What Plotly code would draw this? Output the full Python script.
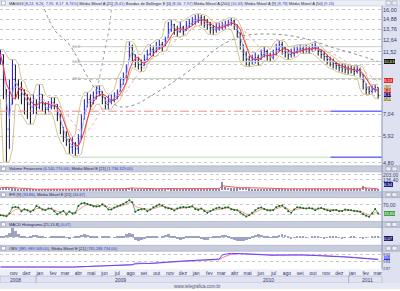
import pandas as pd
import plotly.graph_objects as go

START = '2008-10-10'
close = [11.25, 9.25, 6.25, 7.31, 9.25, 8.89, 8.55, 8.22, 7.91, 7.60,
         7.43, 7.60, 7.43, 8.22, 7.60, 7.31, 7.43, 7.72, 7.60, 7.03,
         6.50, 5.87, 5.78, 5.43, 5.56, 5.35, 5.56, 6.50, 7.31, 7.91,
         7.72, 8.03, 8.42, 8.55, 8.03, 7.60, 7.79, 7.91, 8.03, 8.22,
         8.89, 9.25, 9.85, 11.88, 11.25, 10.65, 10.40, 10.16, 10.82, 11.25,
         11.70, 11.52, 11.88, 12.16, 11.98, 12.45, 13.68, 14.23, 13.68, 13.47,
         13.90, 13.47, 14.12, 14.34, 14.56, 14.79, 15.03, 14.79, 14.56, 14.23,
         13.90, 13.68, 13.90, 14.01, 14.12, 14.23, 14.45, 14.68, 14.23, 13.47,
         12.45, 11.25, 10.82, 10.65, 10.82, 10.99, 10.73, 11.25, 11.52, 11.16,
         10.99, 11.25, 11.70, 12.16, 11.88, 11.43, 11.25, 11.34, 11.52, 11.70,
         11.79, 11.70, 11.79, 11.70, 11.88, 12.07, 11.52, 11.25, 11.07, 10.82,
         10.65, 10.48, 10.32, 10.16, 10.16, 10.00, 10.00, 10.00, 9.85, 10.00,
         9.77, 9.10, 8.55, 8.42, 8.55, 8.69, 8.17]
high = [11.70, 11.25, 8.55, 9.25, 10.82, 10.40, 9.25, 9.10, 8.55, 8.22,
        8.03, 8.22, 7.91, 8.89, 8.22, 7.72, 7.79, 8.03, 8.03, 7.60,
        7.03, 6.35, 6.15, 5.78, 5.87, 5.65, 6.01, 7.03, 7.91, 8.35,
        8.22, 8.42, 8.76, 8.82, 8.42, 8.03, 8.16, 8.22, 8.35, 8.55,
        9.39, 9.77, 10.40, 12.45, 12.16, 11.25, 10.99, 10.82, 11.25, 11.70,
        12.16, 12.07, 12.45, 12.65, 12.45, 12.95, 14.56, 14.79, 14.34, 14.12,
        14.56, 14.12, 14.68, 14.91, 15.15, 15.39, 15.51, 15.39, 15.27, 14.91,
        14.56, 14.23, 14.45, 14.45, 14.56, 14.68, 14.79, 15.03, 14.79, 14.23,
        13.36, 12.16, 11.52, 11.16, 11.25, 11.43, 11.25, 11.70, 11.98, 11.70,
        11.43, 11.70, 12.26, 12.55, 12.45, 11.98, 11.70, 11.79, 11.98, 12.07,
        12.16, 12.07, 12.16, 12.07, 12.26, 12.36, 11.98, 11.70, 11.52, 11.25,
        11.07, 10.90, 10.65, 10.48, 10.48, 10.40, 10.32, 10.32, 10.24, 10.32,
        10.16, 9.62, 8.96, 8.76, 8.82, 8.89, 8.69]
low = [10.40, 7.91, 4.83, 5.35, 7.60, 7.91, 7.91, 7.60, 7.03, 6.76,
       6.50, 7.03, 7.03, 7.31, 7.20, 7.03, 7.14, 7.31, 7.31, 6.66,
       6.01, 5.65, 5.47, 5.14, 5.14, 5.06, 5.14, 5.78, 6.76, 7.43,
       7.31, 7.60, 7.91, 8.10, 7.60, 7.31, 7.31, 7.60, 7.72, 7.91,
       8.42, 8.89, 9.39, 10.82, 10.65, 10.16, 10.00, 9.85, 10.32, 10.82,
       11.16, 11.07, 11.43, 11.70, 11.52, 11.98, 12.85, 13.47, 13.16, 12.95,
       13.36, 13.05, 13.57, 13.90, 14.12, 14.23, 14.45, 14.12, 13.90, 13.68,
       13.26, 13.16, 13.36, 13.57, 13.68, 13.79, 14.01, 14.12, 13.68, 12.85,
       11.70, 10.65, 10.32, 10.24, 10.40, 10.48, 10.32, 10.82, 10.99, 10.73,
       10.65, 10.82, 11.16, 11.52, 11.25, 10.99, 10.82, 10.99, 11.07, 11.34,
       11.43, 11.34, 11.43, 11.34, 11.52, 11.61, 11.16, 10.90, 10.73, 10.40,
       10.24, 10.08, 10.00, 9.85, 9.77, 9.69, 9.62, 9.69, 9.54, 9.69,
       9.39, 8.55, 8.22, 8.22, 8.29, 8.35, 7.95]
volume = [30, 35, 40, 32, 25, 22, 18, 15, 14, 12,
          10, 9, 8, 10, 9, 8, 9, 10, 9, 8,
          9, 10, 12, 11, 10, 12, 14, 16, 15, 13,
          12, 14, 15, 13, 12, 11, 12, 13, 14, 15,
          18, 20, 22, 35, 25, 20, 18, 16, 15, 17,
          18, 16, 17, 19, 18, 20, 28, 25, 22, 20,
          19, 18, 17, 18, 19, 20, 18, 17, 16, 18,
          17, 16, 18, 20, 110, 45, 30, 25, 22, 24,
          30, 35, 28, 22, 20, 18, 17, 19, 18, 16,
          15, 16, 17, 18, 16, 15, 14, 15, 16, 14,
          13, 14, 15, 14, 13, 14, 15, 16, 15, 14,
          15, 14, 13, 14, 15, 14, 13, 14, 15, 16,
          18, 50, 25, 20, 18, 16, 6.54]
rsi = [26.4, 25.0, 22.2, 33.3, 58.3, 61.1, 58.3, 43.1, 51.4, 47.2,
       40.3, 47.2, 65.3, 58.3, 50.0, 47.2, 54.2, 54.2, 43.1, 30.6,
       37.5, 44.4, 29.2, 41.7, 33.3, 36.1, 65.3, 75.0, 77.8, 73.6,
       69.4, 63.9, 62.5, 63.9, 72.2, 63.9, 50.0, 50.0, 58.3, 63.9,
       68.1, 73.6, 80.6, 88.9, 80.6, 40.3, 48.6, 51.4, 52.8, 43.1,
       50.0, 59.7, 65.3, 70.8, 66.7, 58.3, 55.6, 52.8, 45.8, 54.2,
       58.3, 61.1, 58.3, 61.1, 63.9, 52.8, 48.6, 54.2, 44.4, 36.1,
       43.1, 50.0, 55.6, 58.3, 54.2, 58.3, 59.7, 51.4, 48.6, 47.2,
       37.5, 29.2, 20.8, 26.4, 36.1, 47.2, 55.6, 58.3, 52.8, 47.2,
       45.8, 48.6, 59.7, 65.3, 66.7, 55.6, 43.1, 36.1, 50.0, 59.7,
       58.3, 55.6, 54.2, 56.9, 54.2, 47.2, 54.2, 56.9, 51.4, 47.2,
       44.4, 47.2, 48.6, 43.1, 44.4, 50.0, 48.6, 47.2, 44.4, 43.1,
       40.3, 30.6, 23.6, 19.4, 34.7, 52.8, 33.86]
macd_hist = [0.05, 0.1, 0.2, 0.4, 0.9, 0.6, 0.3, 0.1, 0.05, -0.05,
             0.05, 0.2, 0.25, 0.15, 0.05, -0.05, 0.0, 0.05, 0.05, 0.1,
             0.15, 0.1, -0.05, -0.1, 0.0, 0.05, 0.1, 0.25, 0.3, 0.25,
             0.15, 0.05, 0.05, 0.0, 0.1, 0.15, 0.1, 0.0, -0.05, 0.05,
             0.1, 0.15, 0.3, 0.4, 0.35, -0.2, -0.35, -0.25, -0.1, 0.05,
             0.1, 0.15, 0.05, 0.0, 0.1, 0.25, 0.3, 0.15, 0.05, -0.15,
             -0.2, -0.1, 0.05, 0.1, 0.15, 0.1, 0.05, -0.1, -0.25, -0.2,
             -0.05, 0.05, 0.1, 0.15, 0.25, 0.2, 0.05, -0.1, -0.25, -0.35,
             -0.3, -0.35, -0.25, -0.1, 0.05, 0.2, 0.3, 0.25, 0.15, 0.05,
             -0.05, 0.05, 0.15, 0.25, 0.3, 0.2, 0.05, -0.1, -0.05, 0.05,
             0.1, 0.05, -0.05, 0.0, 0.05, 0.1, 0.05, -0.05, -0.1, -0.05,
             0.05, 0.1, 0.05, -0.05, -0.1, -0.05, 0.0, 0.05, 0.05, 0.0,
             -0.05, -0.1, -0.05, 0.0, 0.1, 0.15, 0.07]
obv = [316, 316, 310, 305, 300, 300, 295, 290, 290, 285,
       285, 283, 283, 283, 283, 285, 285, 283, 283, 285,
       290, 290, 292, 300, 310, 320, 330, 335, 340, 345,
       350, 355, 360, 362, 365, 370, 378, 385, 390, 392,
       395, 400, 405, 408, 420, 500, 510, 515, 495, 485,
       483, 495, 510, 525, 540, 547, 555, 565, 580, 595,
       605, 609, 615, 620, 625, 630, 635, 640, 645, 650,
       655, 660, 665, 700, 900, 940, 960, 975, 980, 975,
       965, 955, 945, 940, 930, 920, 910, 900, 890, 880,
       875, 880, 890, 895, 900, 903, 903, 900, 903, 905,
       903, 900, 895, 890, 885, 880, 875, 870, 865, 860,
       857, 855, 845, 830, 815, 800, 790, 780, 760, 740,
       725, 717, 715, 712, 705, 690, 680]
ma200_week = [14, 18, 23, 29, 33, 38, 41, 46, 50, 58, 67, 73, 79, 83, 94, 103, 111, 119, 126]
ma200_vals = [16.8, 13.68, 12.16, 9.47, 8.22, 7.60, 7.43, 7.66, 8.10, 9.10,
              10.65, 11.98, 12.85, 13.16, 13.16, 12.65, 11.88, 11.25, 10.65]
arc_dates = ['2009-05-24', '2009-06-02', '2009-06-12', '2009-06-21', '2009-06-27']
arc_vals = [8.55, 10.00, 11.88, 13.90, 16.60]
fib_low, fib_high = 5.01, 16.28
fib_ratios = [0.0, 0.382, 0.5, 0.618]
fib_labels = ['', '38,2', '50,0', '61,8']
fib_start = '2009-03-27'
support = 7.20
support_break = '2010-11-20'
months_pt = ['jan', 'fev', 'mar', 'abr', 'mai', 'jun', 'jul', 'ago', 'set', 'out', 'nov', 'dez']
price_ticks = [4.80, 5.92, 7.04, 8.16, 9.28, 10.40, 11.52, 12.64, 13.76, 14.88, 16.00]
price_ticks_hidden = [8.16, 9.28, 10.40]
X_END = '2011-03-20'
X_START = '2008-10-09'

def br(v, d=2):
    return f"{v:.{d}f}".replace('.', ',')

dates = pd.date_range(START, periods=len(close), freq='7D')
sc = pd.Series(close)
sh = pd.Series(high)
sl = pd.Series(low)
opens = sc.shift(1).fillna(close[0]).clip(lower=sl, upper=sh)
ma9 = sc.rolling(2, min_periods=1).mean()
ma21 = sc.rolling(4, min_periods=1).mean()
ma50 = sc.rolling(10, min_periods=1).mean()
bb_up = sh.rolling(3, center=True, min_periods=1).max()
bb_lo = sl.rolling(3, center=True, min_periods=1).min()
vol_ema = pd.Series(volume).ewm(span=4).mean()
rsi_ema = pd.Series(rsi).ewm(span=4).mean()
obv_ema = pd.Series(obv).ewm(span=4).mean()
ma200_dates = [dates[i] for i in ma200_week]

fig = go.Figure()
FONT = 'Liberation Sans, Arial, sans-serif'

for r, lab in zip(fib_ratios, fib_labels):
    lvl = fib_low + r * (fib_high - fib_low)
    col = '#b8dcb8' if r == 0 else '#c9d3c2'
    fig.add_trace(go.Scatter(x=[fib_start, X_END], y=[lvl, lvl], mode='lines',
                             line=dict(color=col, width=1), yaxis='y', hoverinfo='skip'))
    if lab:
        fig.add_trace(go.Scatter(x=[fib_start], y=[lvl], mode='text', text=[lab],
                                 textposition='middle right',
                                 textfont=dict(size=4, color='#9a9a9a', family=FONT), yaxis='y'))
fig.add_trace(go.Scatter(x=[X_START, support_break], y=[support, support], mode='lines',
                         line=dict(color='#f08a8a', width=1, dash='dashdot'), yaxis='y'))
fig.add_trace(go.Scatter(x=[support_break, X_END], y=[support, support], mode='lines',
                         line=dict(color='#7070ff', width=1.5), yaxis='y'))
fig.add_trace(go.Scatter(x=[support_break, X_END], y=[fib_low, fib_low], mode='lines',
                         line=dict(color='#7070ff', width=1.5), yaxis='y'))
fig.add_trace(go.Scatter(x=dates, y=bb_up, mode='lines', line=dict(color='#c8b878', width=0.8), yaxis='y'))
fig.add_trace(go.Scatter(x=dates, y=bb_lo, mode='lines', line=dict(color='#c8b878', width=0.8), yaxis='y'))
fig.add_trace(go.Scatter(x=ma200_dates, y=ma200_vals, mode='lines', line=dict(color='#8c8c9c', width=1, dash='dot', shape='spline'), yaxis='y'))
fig.add_trace(go.Scatter(x=arc_dates, y=arc_vals, mode='lines', line=dict(color='#a0a0a8', width=1, dash='dot', shape='spline'), yaxis='y'))
fig.add_trace(go.Scatter(x=dates, y=ma50, mode='lines', line=dict(color='#f2a8b8', width=1, dash='dot'), yaxis='y'))
fig.add_trace(go.Scatter(x=dates, y=ma9, mode='lines', line=dict(color='#9a9aff', width=0.8), yaxis='y'))
fig.add_trace(go.Ohlc(x=dates, open=opens, high=high, low=low, close=close, yaxis='y',
                      increasing=dict(line=dict(color='#1818c8', width=1)),
                      decreasing=dict(line=dict(color='#101018', width=1)), tickwidth=0.3))
fig.add_trace(go.Scatter(x=dates, y=ma21, mode='lines', line=dict(color='#ff3030', width=1), yaxis='y'))

fig.add_trace(go.Bar(x=dates, y=volume, marker=dict(color='#8a8ab0', line=dict(width=0)),
                     width=7 * 86400000 * 0.45, yaxis='y2'))
fig.add_trace(go.Scatter(x=dates, y=vol_ema, mode='lines', line=dict(color='#ff5050', width=1), yaxis='y2'))
fig.add_trace(go.Scatter(x=dates, y=rsi_ema, mode='lines', line=dict(color='#f4a0a0', width=1), yaxis='y3'))
fig.add_trace(go.Scatter(x=dates, y=rsi, mode='lines+markers', line=dict(color='#5aa05a', width=1),
                         marker=dict(size=2, color='#1e5e1e'), yaxis='y3'))
fig.add_trace(go.Bar(x=dates, y=macd_hist, marker=dict(color='#9ca2c2', line=dict(width=0)),
                     width=7 * 86400000 * 0.85, yaxis='y4'))
fig.add_trace(go.Scatter(x=dates, y=obv_ema, mode='lines', line=dict(color='#ff70c0', width=1), yaxis='y5'))
fig.add_trace(go.Scatter(x=dates, y=obv, mode='lines', line=dict(color='#5050ff', width=1), yaxis='y5'))

def py(y):
    return 1 - y / 291.0

def pxx(x):
    return x / 400.0

XR = 382 / 400.0
def grid(fs=5.5):
    return dict(showgrid=True, gridcolor='#c8c8c8', griddash='dot', gridwidth=1, zeroline=False,
                side='right', anchor='x', ticks='', showline=False,
                tickfont=dict(size=fs, color='#3a3a6a', family=FONT))

month_ticks = pd.date_range('2008-11-01', '2011-03-01', freq='MS') + pd.Timedelta(days=9)
fig.update_layout(
    width=400, height=291, margin=dict(l=0, r=0, t=0, b=0),
    paper_bgcolor='white', plot_bgcolor='white', showlegend=False, bargap=0,
    font=dict(family=FONT, size=5, color='#222255'),
    xaxis=dict(domain=[0, XR], range=[X_START, X_END], anchor='y5', type='date',
               rangeslider=dict(visible=False), showgrid=False, zeroline=False, ticks='',
               tickvals=list(month_ticks), ticktext=[months_pt[d.month - 1] for d in month_ticks],
               tickfont=dict(size=5, color='#333366', family=FONT)),
    yaxis=dict(domain=[py(167), py(6)], type='log', range=[0.6702, 1.2177],
               tickvals=price_ticks,
               ticktext=['' if v in price_ticks_hidden else br(v) for v in price_ticks], **grid()),
    yaxis2=dict(domain=[py(193), py(173)], range=[-23.4, 243], tickvals=[136.4, 203.0],
                ticktext=['136,40', '203,00'], **grid(5)),
    yaxis3=dict(domain=[py(223), py(199)], range=[0, 100], tickvals=[30, 70],
                ticktext=['', '70,00'], **grid(5)),
    yaxis4=dict(domain=[py(247), py(229)], range=[-0.71, 1.0], tickvals=[0], ticktext=[''], **grid(5)),
    yaxis5=dict(domain=[py(271), py(253)], range=[213, 1078], tickvals=[237, 593, 934],
                ticktext=['237', '593', '934'], **grid(4.3)),
)

shapes = []
def rect(x0, y0, x1, y1, fill, line='rgba(0,0,0,0)', lw=0, layer='below'):
    shapes.append(dict(type='rect', xref='paper', yref='paper', x0=pxx(x0), x1=pxx(x1),
                       y0=py(y1), y1=py(y0), fillcolor=fill, line=dict(color=line, width=lw), layer=layer))

rect(382, 0, 400, 291, '#dde1f0')
shapes.append(dict(type='line', xref='paper', yref='paper', x0=XR, x1=XR, y0=py(271), y1=py(6),
                   line=dict(color='#8a90b8', width=1), layer='above'))
rect(0, 0, 400, 6, '#eceef6', '#b4b8ca', 0.5)
headers_y = [(167, 173), (193, 199), (223, 229), (247, 253)]
for (a, b) in headers_y:
    rect(0, a, 400, b, '#c8cddd', '#979db2', 0.5)
for (a, b) in [(0, 6)] + headers_y:
    rect(1.5, a + 1.2, 5.5, b - 1.2, '#ffffff', '#8088a8', 0.5)
    rect(386, a + 1, 391, b - 1, '#eeeef4', '#8088a8', 0.5)
    rect(392, a + 1, 397, b - 1, '#eeeef4', '#8088a8', 0.5)
rect(0, 271, 382, 278, '#eceef8')
rect(0, 278, 382, 285, '#e0e3f1', '#9ea4bc', 0.5)
rect(0, 285, 400, 291, '#e6e8f4')
for d in ['2009-01-01', '2011-01-01']:
    shapes.append(dict(type='line', xref='x', yref='paper', x0=d, x1=d, y0=py(285), y1=py(278),
                       line=dict(color='#9ea4bc', width=0.8)))
fig.update_layout(shapes=shapes)

ann = []
V = '#1f3fbf'
D = '#1a1a55'
def hdr(y, parts):
    txt = ''.join(f'<span style="color:{c}">{t}</span>' for t, c in parts)
    ann.append(dict(xref='paper', yref='paper', x=pxx(7), y=py(y), xanchor='left', yanchor='middle',
                    text=txt, showarrow=False, font=dict(size=4, family=FONT, color=D)))
hdr(3.2, [('MAGG3 ', D), ('[8,24  8,26  7,95  8,17  8,76%] ', V), ('Média Móvel A [21] ', D), ('(8,41) ', V),
          ('Bandas de Bollinger E [0] ', D), ('(8,56  7,97) ', V), ('Média Móvel A [200] ', D), ('(10,63) ', V),
          ('Média Móvel A [9] ', D), ('(8,78) ', V), ('Média Móvel A [50] ', D), ('(9,13)', V)])
hdr(170, [('Volume Financeiro ', D), ('(6.540.770,00)', V), (', Média Móvel E [21] ', D), ('(1.736.329,00)', V)])
hdr(196, [('IFR [9] ', D), ('(33,86)', V), (', Média Móvel E [21] ', D), ('(34,67)', V)])
hdr(226, [('MACD Histograma [21,13,8] ', D), ('(0,07)', V)])
hdr(250, [('OBV ', D), ('(885.989.568,00)', V), (', Média Móvel E [21] ', D), ('(785.288.734,00)', V)])

def box(y, text, bg, fc='white', fs=3.8):
    ann.append(dict(xref='paper', yref='paper', x=pxx(384), y=py(y), xanchor='left', yanchor='middle',
                    text=text, showarrow=False, bgcolor=bg, borderpad=0, borderwidth=0,
                    font=dict(size=fs, family=FONT, color=fc)))
box(61.5, br(10.63), '#111111', '#ffffaa', 4.2)
box(81, br(9.13), '#e02424', fs=4.2)
box(87.3, br(8.56), '#a89548')
box(91.4, br(8.41), '#e02424')
box(95.5, br(close[-1]), '#101090')
box(99.6, br(7.97), '#a89548')
box(186, br(6.54), '#1a1a88', fs=4.2)
box(214.5, br(rsi[-1]), '#3f9f3f', fs=4.2)
box(240.5, br(macd_hist[-1]), '#1a1a70', fs=4.2)
box(259.3, '886', '#2a2aff')

for d, t in [('2008-11-14', '2008'), ('2009-07-17', '2009'), ('2010-06-27', '2010'), ('2011-02-13', '2011')]:
    ann.append(dict(xref='x', yref='paper', x=d, y=py(281.5), text=t, showarrow=False,
                    font=dict(size=5, family=FONT, color='#333366'), xanchor='center', yanchor='middle'))
ann.append(dict(xref='paper', yref='paper', x=pxx(197), y=py(288), text='www.telegrafica.com.br', showarrow=False,
                font=dict(size=4.5, family=FONT, color='#555577'), xanchor='center', yanchor='middle'))
fig.update_layout(annotations=ann)

fig.write_html('out.html')
